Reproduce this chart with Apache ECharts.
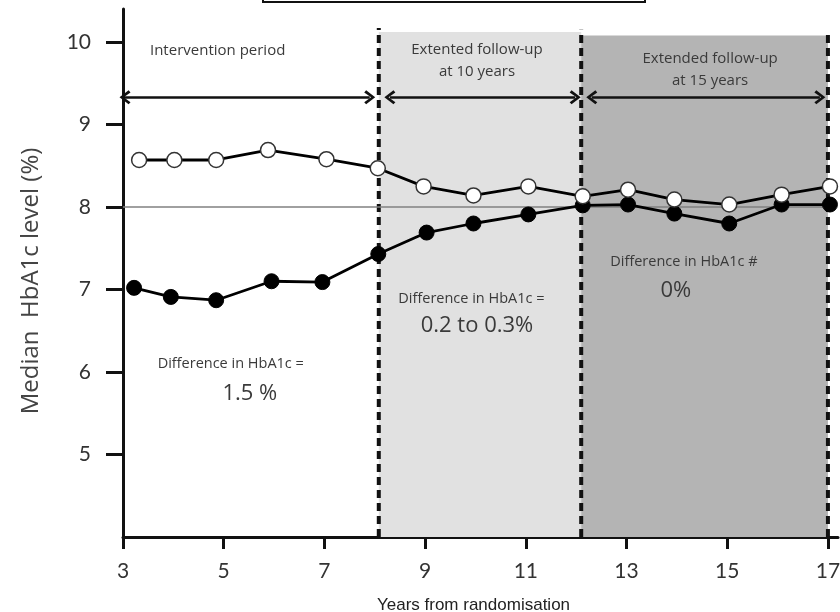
<!DOCTYPE html>
<html>
<head>
<meta charset="utf-8">
<script src="https://cdn.jsdelivr.net/npm/echarts@6/dist/echarts.min.js"></script>
<style>
html,body{margin:0;padding:0;background:#fff;}
#c{width:840px;height:612px;}
</style>
</head>
<body>
<div id="c"></div>
<script>
// ---- data ----
var openYears   = [3.32, 4.02, 4.85, 5.88, 7.04, 8.06, 8.97, 9.96, 11.05, 12.13, 13.03, 13.95, 15.04, 16.08, 17.04];
var openValues  = [8.57, 8.57, 8.57, 8.69, 8.58, 8.47, 8.25, 8.14, 8.25, 8.13, 8.21, 8.09, 8.03, 8.15, 8.25];
var filledYears = [3.22, 3.95, 4.85, 5.95, 6.96, 8.07, 9.03, 9.96, 11.05, 12.13, 13.03, 13.95, 15.04, 16.08, 17.04];
var filledValues= [7.02, 6.91, 6.87, 7.10, 7.09, 7.43, 7.69, 7.80, 7.91, 8.02, 8.03, 7.92, 7.80, 8.03, 8.03];
var xTicks = [3, 5, 7, 9, 11, 13, 15, 17];
var yTicks = [5, 6, 7, 8, 9, 10];
var periodBounds = [8.08, 12.1, 17.0];      // dashed boundaries
var referenceLevel = 8;
var arrowLevel = 9.33;
var arrows = [[3.04, 7.9], [8.3, 11.98], [12.31, 16.84]];
var notes = [
  {text: 'Intervention period', x: 4.88, y: 9.9, size: 15},
  {text: 'Extented follow-up\nat 10 years', x: 10.03, y: 9.77, size: 15},
  {text: 'Extended follow-up\nat 15 years', x: 14.66, y: 9.66, size: 15},
  {text: 'Difference in HbA1c =', x: 5.14, y: 6.1, size: 14.5},
  {text: '1.5 %', x: 5.52, y: 5.74, size: 22},
  {text: 'Difference in HbA1c =', x: 9.92, y: 6.89, size: 14.5},
  {text: '0.2 to 0.3%', x: 10.03, y: 6.56, size: 22},
  {text: 'Difference in HbA1c #', x: 14.14, y: 7.34, size: 14.5},
  {text: '0%', x: 13.98, y: 6.99, size: 22}
];

function zip(a, b) { return a.map(function (v, i) { return [v, b[i]]; }); }

var FONT = 'Lato, "Open Sans", sans-serif';
var NOTEFONT = '"Open Sans", Lato, sans-serif';
var chevron = 'path://M0,12 L10,0 L20,12 L17,14.5 L10,5.5 L3,14.5 Z';

var chart = echarts.init(document.getElementById('c'), null, {renderer: 'canvas'});

var dashedSeries = periodBounds.map(function (b, i) {
  var tops = [10.17, 10.15, 10.12];
  return {
    type: 'line', data: [[b, 4], [b, tops[i]]], symbol: 'none', silent: true, z: 4,
    lineStyle: {color: '#111', width: 4, type: [8, 5]}
  };
});

var option = {
  animation: false,
  backgroundColor: '#fff',
  grid: {left: 123, right: 2, top: 9, bottom: 75, containLabel: false, outerBoundsMode: 'none'},
  xAxis: {
    type: 'value', min: 3, max: 17.2,
    name: 'Years from randomisation', nameLocation: 'middle', nameGap: 60,
    nameTextStyle: {fontFamily: '"Liberation Sans", Arial, sans-serif', fontSize: 17, color: '#222', padding: [0, 14, 0, 0]},
    axisLine: {show: true, lineStyle: {color: '#111', width: 3}},
    axisTick: {show: true, inside: false, length: 12, lineStyle: {color: '#111', width: 3}, customValues: xTicks},
    axisLabel: {customValues: xTicks, fontFamily: FONT, fontSize: 21, color: '#333', margin: 24},
    splitLine: {show: false}
  },
  yAxis: {
    type: 'value', min: 4, max: 10.4,
    name: 'Median  HbA1c level (%)', nameLocation: 'middle', nameRotate: 90, nameGap: 80,
    nameTextStyle: {fontFamily: '"Open Sans", Lato, sans-serif', fontSize: 24, color: '#444', padding: [0, 16, 0, 0]},
    axisLine: {show: true, lineStyle: {color: '#111', width: 3}},
    axisTick: {show: true, inside: false, length: 17, lineStyle: {color: '#111', width: 3}, customValues: yTicks},
    axisLabel: {customValues: yTicks, fontFamily: FONT, fontSize: 21, color: '#333', margin: 32},
    splitLine: {show: false}
  },
  series: [
    {
      type: 'line', data: [], silent: true, z: 1,
      markArea: {
        silent: true,
        data: [
          [{coord: [periodBounds[0], 4], itemStyle: {color: '#e1e1e1'}}, {coord: [periodBounds[1], 10.12]}],
          [{coord: [periodBounds[1], 4], itemStyle: {color: '#b4b4b4'}}, {coord: [periodBounds[2], 10.08]}]
        ]
      },
      markLine: {
        silent: true, symbol: 'none', label: {show: false},
        lineStyle: {color: '#808080', width: 1.5, type: 'solid'},
        data: [[{coord: [3, referenceLevel]}, {coord: [17, referenceLevel]}]]
      }
    },
    {
      type: 'line', data: [], silent: true, z: 5,
      markLine: {
        silent: true, symbol: [chevron, chevron], symbolSize: [14, 11], label: {show: false},
        lineStyle: {color: '#111', width: 2.5, type: 'solid'},
        data: arrows.map(function (a) { return [{coord: [a[0], arrowLevel]}, {coord: [a[1], arrowLevel]}]; })
      }
    }
  ].concat(dashedSeries).concat([
    {
      name: 'filled', type: 'line', data: zip(filledYears, filledValues), z: 6,
      symbol: 'circle', symbolSize: 15,
      lineStyle: {color: '#000', width: 2.8},
      itemStyle: {color: '#000', borderColor: '#000', borderWidth: 1}
    },
    {
      name: 'open', type: 'line', data: zip(openYears, openValues), z: 7,
      symbol: 'circle', symbolSize: 15,
      lineStyle: {color: '#000', width: 2.8},
      itemStyle: {color: '#fff', borderColor: '#333', borderWidth: 1.5}
    }
  ])
};
chart.setOption(option);

var g = [{
  type: 'rect', shape: {x: 263, y: -10, width: 382, height: 12}, silent: true,
  style: {fill: 'none', stroke: '#111', lineWidth: 2}
}];
notes.forEach(function (n) {
  var p = chart.convertToPixel({gridIndex: 0}, [n.x, n.y]);
  g.push({
    type: 'text', x: p[0], y: p[1], silent: true, z: 100,
    style: {text: n.text, fontFamily: NOTEFONT, fontSize: n.size, fill: '#3a3a3a',
            align: 'center', verticalAlign: 'middle', lineHeight: n.size + 7}
  });
});
chart.setOption({graphic: g});
</script>
</body>
</html>
